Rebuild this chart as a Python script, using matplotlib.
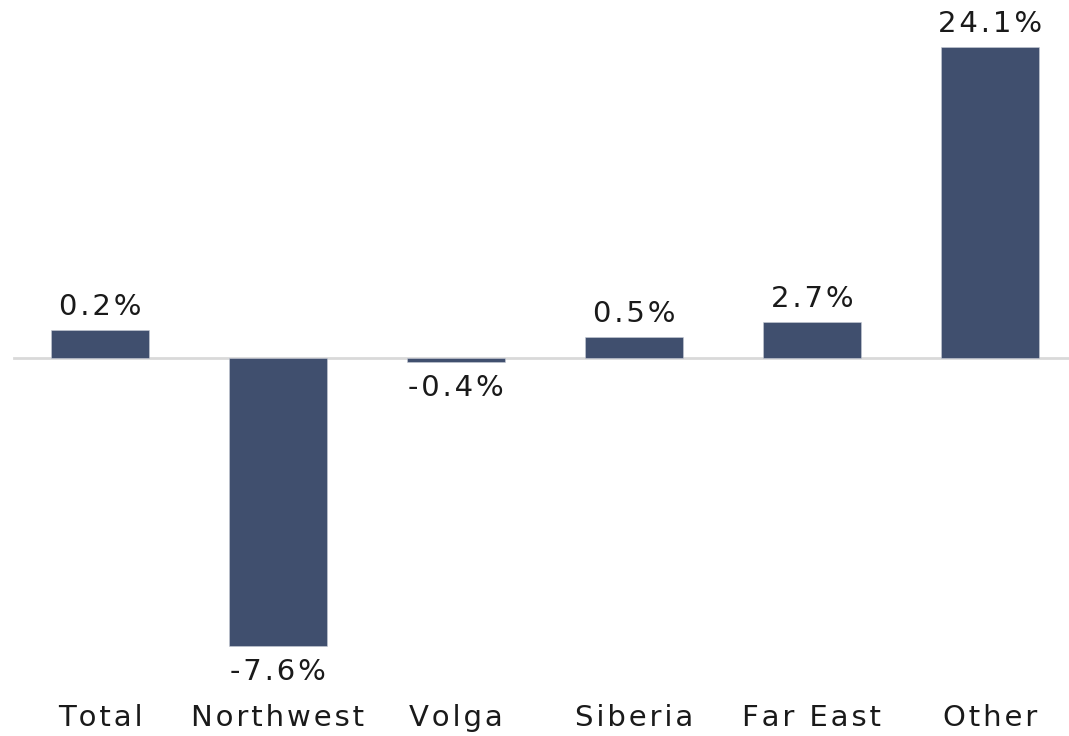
import matplotlib.pyplot as plt

categories = ["Total", "Northwest", "Volga", "Siberia", "Far East", "Other"]
labels = ["0.2%", "-7.6%", "-0.4%", "0.5%", "2.7%", "24.1%"]
# bar heights as drawn in the picture (not proportional to the labels)
heights = [2.8, -28.8, -0.4, 2.15, 3.6, 31.1]

bar_color = "#404F6E"
text_color = "#1A1A1A"


def spaced(s):
    # the reference text is loosely tracked; mimic with hair spaces
    return "\u200a".join(s)


fig = plt.figure(figsize=(10.69, 7.36), dpi=100)
ax = fig.add_axes([0, 0, 1, 1])

x = list(range(len(categories)))
ax.bar(x, heights, width=0.55, color=bar_color, edgecolor="#C8CCD6", linewidth=0.4, zorder=2)
ax.axhline(0, xmin=0.013, xmax=1, color="#D9D9D9", lw=2, zorder=1)

ax.set_xlim(-0.562, 5.444)
ax.set_ylim(-37.8, 35.8)

for xi, h, lab in zip(x, heights, labels):
    if h >= 0:
        ax.text(xi, h + 0.9, spaced(lab), ha="center", va="bottom", fontsize=21, color=text_color)
    else:
        ax.text(xi, h - 1.2, spaced(lab), ha="center", va="top", fontsize=21, color=text_color)

for xi, cat in zip(x, categories):
    ax.text(xi, -36.0, spaced(cat), ha="center", va="center", fontsize=21, color=text_color)

ax.axis("off")
fig.savefig("out.png", dpi=100)
